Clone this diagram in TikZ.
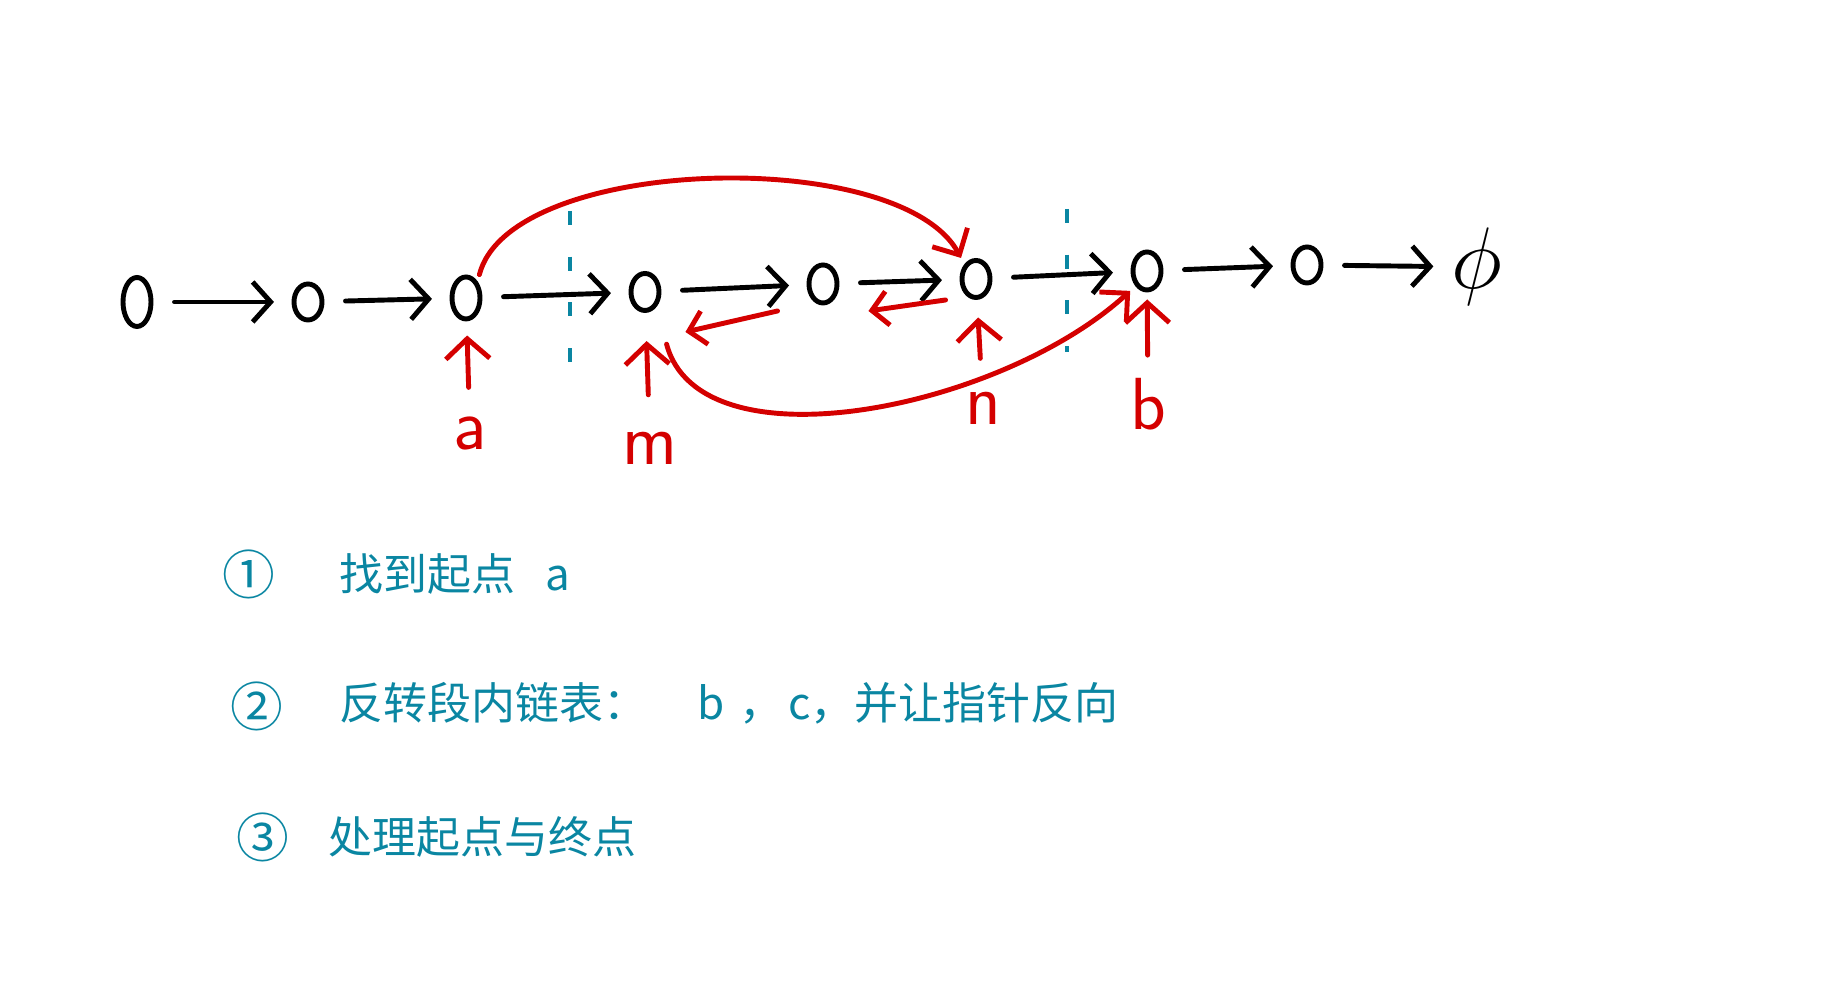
\documentclass[tikz,border=0pt]{standalone}
\usepackage{fontspec}
\newfontfamily\cjk{Noto Sans CJK SC}
\usetikzlibrary{arrows.meta, shapes.geometric}
\definecolor{penred}{HTML}{D40000}
\definecolor{penteal}{HTML}{0A86A2}

\begin{document}
\begin{tikzpicture}[
                    elem/.style={draw, ellipse, line width=1.4pt, minimum width=0.28cm, inner sep=0pt},
                    link/.style={line width=1.4pt, line cap=round, -{Straight Barb[length=1.8mm, width=4mm]}, shorten <=6pt, shorten >=5pt},
                    ptr/.style={penred, line width=1.4pt, line cap=round, -{Straight Barb[length=2mm, width=4.4mm]}},
                    jump/.style={penred, line width=1.4pt, line cap=round, -{Straight Barb[length=2mm, width=4mm]}},
                    back/.style={penred, line width=1.4pt, line cap=round, -{Straight Barb[length=1.6mm, width=3.4mm]}},
                    lbl/.style={text=penred, font=\sffamily\fontsize{21}{24}\selectfont},
                    cut/.style={penteal, line width=1pt, dash pattern=on 4pt off 9pt},
                    num/.style={text=penteal, font=\cjk\fontsize{15}{18}\selectfont, inner sep=0pt},
                    note/.style={text=penteal, font=\cjk\fontsize{12.5}{15}\selectfont, anchor=west, inner sep=0pt}
                ]
                \useasboundingbox (0,0) rectangle (18.35,10);
                % list elements
                \foreach \x/\y/\h/\i in {1.37/6.98/0.49/1, 3.08/6.98/0.36/2, 4.66/7.02/0.42/3, 6.45/7.08/0.37/4, 8.23/7.16/0.38/5, 9.76/7.21/0.37/6, 11.47/7.29/0.38/7, 13.07/7.35/0.36/8}{
                        \node[elem, minimum height=\h cm] (n\i) at (\x,\y) {};
                    }
                \node[font=\fontsize{24.88}{30}\selectfont, inner sep=0pt] (nil) at (14.77,7.33) {$\phi$};
                \foreach \i/\j in {1/2, 2/3, 3/4, 4/5, 5/6, 6/7, 7/8}{
                        \draw[link] (n\i) -- (n\j);
                    }
                \draw[link] (n8) -- (nil);

                % segment borders
                \coordinate (c1t) at (5.70,7.89);
                \coordinate (c1b) at (5.70,6.25);
                \coordinate (c2t) at (10.67,7.91);
                \coordinate (c2b) at (10.67,6.48);
                \draw[cut] (c1t) -- (c1b);
                \draw[cut] (c2t) -- (c2b);

                % pointers
                \node[lbl] (la) at (4.70,5.66) {a};
                \node[lbl] (lm) at (6.50,5.52) {m};
                \node[lbl] (ln) at (9.83,5.92) {n};
                \node[lbl] (lb) at (11.48,5.96) {b};
                \foreach \l/\e/\s/\t in {la/n3/5pt/4pt, lm/n4/7pt/8pt, ln/n6/6pt/5pt, lb/n7/3pt/2pt}{
                        \draw[ptr, shorten <=\s, shorten >=\t] (\l) -- (\e);
                    }

                \draw[jump, shorten <=2pt, shorten >=2pt] (n3.north east) .. controls (5.1,8.45) and (9.0,8.55) .. (n6.north west);
                \draw[jump, shorten <=11pt, shorten >=2pt] (n4.south east) .. controls (7.0,5.3) and (10.0,5.9) .. (n7.south west);
                \draw[back] ([shift={(-0.29,-0.27)}]n5.west) -- ([shift={(0.24,-0.40)}]n4.east);
                \draw[back] ([shift={(-0.14,-0.21)}]n6.west) -- ([shift={(0.29,-0.27)}]n5.east);

                % steps
                \node[num] (num1) at (2.49,4.26) {①};
                \node[note] (txt1) at (3.39,4.26) {找到起点\hspace{0.3cm}a};
                \node[num] (num2) at (2.57,2.94) {②};
                \node[note] (txt2) at (3.39,2.97) {反转段内链表：\hspace{0.5cm}b\hspace{0.15cm}，\hspace{0.05cm}c，并让指针反向};
                \node[num] (num3) at (2.63,1.63) {③};
                \node[note] (txt3) at (3.28,1.63) {处理起点与终点};
            \end{tikzpicture}
\end{document}
